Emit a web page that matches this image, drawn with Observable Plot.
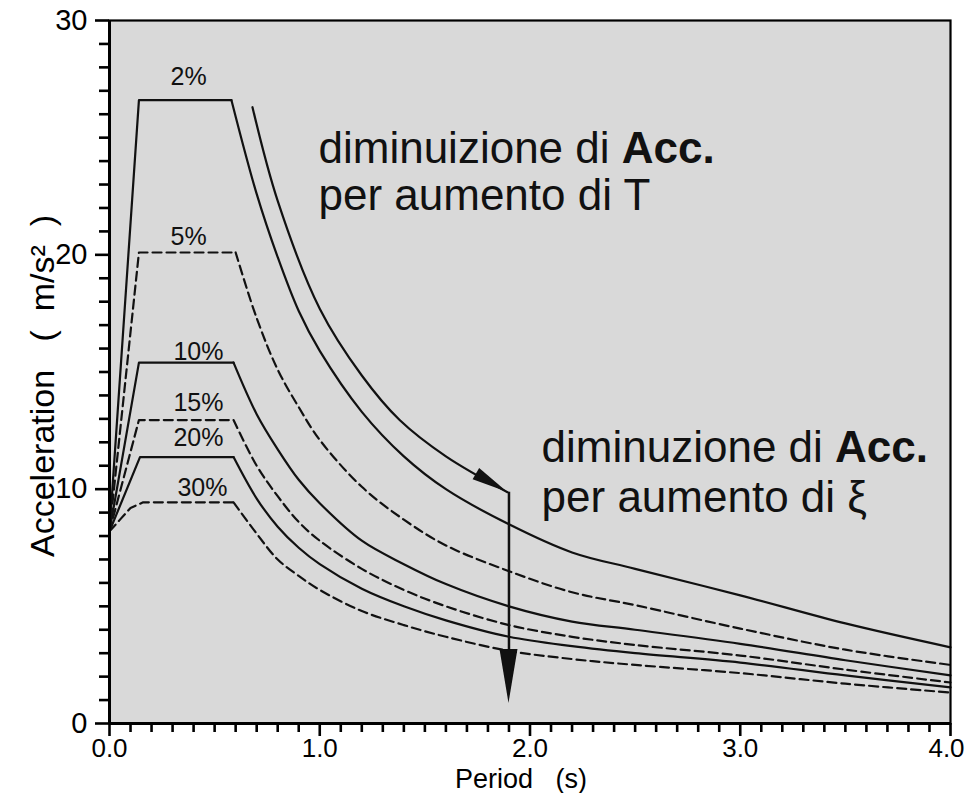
<!DOCTYPE html>
<html><head><meta charset="utf-8">
<script src="https://cdn.jsdelivr.net/npm/d3@7"></script>
<script src="https://cdn.jsdelivr.net/npm/@observablehq/plot@0.6"></script>
<style>body{margin:0;background:#fff}</style>
</head><body><div id="chart"></div>
<script>
// ---- data ----
const dampingLabels = ["2%", "5%", "10%", "15%", "20%", "30%"];
const dashedSeries = ["5%", "15%", "30%"];
const pga = 8.2;                                   // acceleration at T = 0
const plateauStart = [0.14, 0.14, 0.14, 0.14, 0.145, 0.16];
const plateauEnd   = [0.58, 0.60, 0.59, 0.59, 0.59, 0.59];
const plateauAcc   = [26.6, 20.1, 15.4, 12.95, 11.37, 9.44];
const rise30T = [0.05, 0.10];                      // rounded rise of the 30% curve
const rise30A = [8.7, 9.2];
const decayT = [0.7, 0.8, 0.9, 1.0, 1.2, 1.4, 1.6, 1.9, 2.2, 2.5, 3.0, 3.5, 4.0];
const acc2  = [22.6, 19.9, 17.6, 15.9, 13.3, 11.4, 10.0, 8.5, 7.3, 6.6, 5.47, 4.27, 3.25];
const acc5  = [17.3, 15.1, 13.5, 12.1, 10.1, 8.7, 7.6, 6.5, 5.6, 5.05, 4.05, 3.15, 2.5];
const acc10 = [13.2, 11.7, 10.4, 9.4, 7.8, 6.8, 5.95, 5.0, 4.35, 4.0, 3.4, 2.7, 2.05];
const acc15 = [11.0, 9.7, 8.6, 7.8, 6.6, 5.7, 5.0, 4.2, 3.7, 3.35, 2.9, 2.3, 1.75];
const acc20 = [9.6, 8.4, 7.5, 6.8, 5.75, 5.0, 4.4, 3.7, 3.3, 3.0, 2.6, 2.05, 1.54];
const acc30 = [8.1, 7.0, 6.3, 5.7, 4.8, 4.2, 3.7, 3.1, 2.75, 2.5, 2.15, 1.7, 1.32];
const decayAcc = [acc2, acc5, acc10, acc15, acc20, acc30];
// curve label anchors (period, acceleration)
const labelT = [0.376, 0.376, 0.423, 0.423, 0.423, 0.442];
const labelA = [27.57, 20.77, 15.85, 13.68, 12.18, 10.04];
// annotation arrows
const arrowT = [0.68, 0.8, 1.0, 1.2, 1.38, 1.6, 1.893];
const arrowA = [26.3, 22.3, 17.7, 14.85, 12.95, 11.4, 9.87];
const dropT = 1.9, dropFrom = 9.87, dropTo = 0.85;
// ticks
const yMajor = [0, 10, 20, 30];
const yMinor = d3.range(0, 31, 1).filter(v => !yMajor.includes(v));
const xMajor = [0, 1, 2, 3, 4];
const xMinor = d3.range(0, 41).map(d => d / 10).filter(v => !xMajor.includes(v));
// annotation text
const noteLines = [
  {t: 0.994, a: 23.93, text: "diminuizione di Acc."},
  {t: 0.994, a: 21.92, text: "per aumento di T"},
  {t: 2.055, a: 11.15, text: "diminuzione di Acc."},
  {t: 2.055, a: 9.02,  text: "per aumento di ξ"}
];

// ---- build point tables ----
const rises = [], decays = [];
dampingLabels.forEach((lab, i) => {
  const dashed = dashedSeries.includes(lab);
  const r = [{T: 0, A: pga}];
  if (lab === "30%") rise30T.forEach((t, k) => r.push({T: t, A: rise30A[k]}));
  r.push({T: plateauStart[i], A: plateauAcc[i]});
  r.push({T: plateauEnd[i], A: plateauAcc[i]});
  r.forEach(p => rises.push({...p, damping: lab, dashed}));
  const d = [{T: plateauEnd[i], A: plateauAcc[i]}];
  decayT.forEach((t, k) => d.push({T: t, A: decayAcc[i][k]}));
  d.forEach(p => decays.push({...p, damping: lab, dashed}));
});
const labels = dampingLabels.map((l, i) => ({T: labelT[i], A: labelA[i], l}));
const arrowPts = arrowT.map((t, i) => ({T: t, A: arrowA[i]}));

const font = "Liberation Sans, Arial, sans-serif";
const ink = "#111";
const lineOpts = (data, curve, dashed) => Plot.line(data.filter(d => d.dashed === dashed), {
  x: "T", y: "A", z: "damping", stroke: ink, strokeWidth: 2.2, curve,
  strokeDasharray: dashed ? "9,5" : null
});

const plot = Plot.plot({
  width: 967, height: 793,
  marginLeft: 109, marginRight: 17, marginTop: 20, marginBottom: 70,
  style: {fontFamily: font},
  x: {domain: [0, 4]},
  y: {domain: [0, 30]},
  marks: [
    Plot.frame({fill: "#d9d9d9"}),
    Plot.axisY({ticks: yMinor, tickSize: 10, tickFormat: () => "", stroke: "black", strokeWidth: 2.6, label: null}),
    Plot.axisY({ticks: yMajor, tickSize: 14, tickPadding: 8, fontSize: 29, stroke: "black", strokeWidth: 2.6, label: null}),
    Plot.axisX({ticks: xMinor, tickSize: 9, tickFormat: () => "", stroke: "black", strokeWidth: 2.6, label: null}),
    Plot.axisX({ticks: xMajor, tickSize: 13, tickPadding: 2, fontSize: 26, stroke: "black", strokeWidth: 2.6,
                tickFormat: d3.format(".1f"), label: null}),
    lineOpts(rises, "linear", false),
    lineOpts(rises, "linear", true),
    lineOpts(decays, "catmull-rom", false),
    lineOpts(decays, "catmull-rom", true),
    Plot.text(labels, {x: "T", y: "A", text: "l", fontSize: 25, fill: ink}),
    Plot.line(arrowPts, {x: "T", y: "A", stroke: ink, strokeWidth: 2.2, curve: "catmull-rom"}),
    Plot.ruleX([dropT], {y1: dropFrom, y2: dropTo + 1.5, stroke: ink, strokeWidth: 2.5}),
    Plot.text(noteLines, {x: "t", y: "a", text: "text", textAnchor: "start", lineAnchor: "bottom",
                          fontSize: 44, fill: ink}),
    Plot.text(["Acceleration   (  m/s²  )"], {frameAnchor: "left", textAnchor: "middle", dx: -66, dy: 14,
                                             rotate: -90, fontSize: 34}),
    Plot.text(["Period   (s)"], {frameAnchor: "bottom", textAnchor: "middle", lineAnchor: "bottom",
                                 dx: -9, dy: 64, fontSize: 27}),
    Plot.frame({stroke: "black", strokeWidth: 2.2}),
    Plot.ruleX([0], {stroke: "black", strokeWidth: 3}),
    Plot.ruleY([0], {stroke: "black", strokeWidth: 3})
  ]
});

const svg = d3.select(plot);
// bold "Acc." inside the annotation lines; keep "4.0" inside the picture
svg.selectAll("text").each(function() {
  const el = this;
  if (el.childNodes.length === 1 && el.textContent.endsWith(" Acc.")) {
    el.textContent = el.textContent.slice(0, -4);
    d3.select(el).append("tspan").attr("font-weight", "bold").text("Acc.");
  }
  if (el.textContent === "4.0") d3.select(el).attr("dx", -4);
});

// filled arrowheads placed through the plot's scales
const sx = plot.scale("x"), sy = plot.scale("y");
function head(tipT, tipA, fromT, fromA, len, hw) {
  const tx = sx.apply(tipT), ty = sy.apply(tipA);
  const fx = sx.apply(fromT), fy = sy.apply(fromA);
  let ux = tx - fx, uy = ty - fy; const n = Math.hypot(ux, uy); ux /= n; uy /= n;
  const bx = tx - ux * len, by = ty - uy * len;
  const px = -uy * hw, py = ux * hw;
  svg.append("path")
    .attr("d", `M${tx},${ty}L${bx + px},${by + py}L${bx - px},${by - py}Z`)
    .attr("fill", ink);
}
const n = arrowT.length;
head(arrowT[n - 1], arrowA[n - 1], arrowT[n - 2], arrowA[n - 2], 36, 6.5);
head(dropT, dropTo, dropT, dropFrom, 54, 9);

document.getElementById("chart").appendChild(plot);
</script></body></html>
